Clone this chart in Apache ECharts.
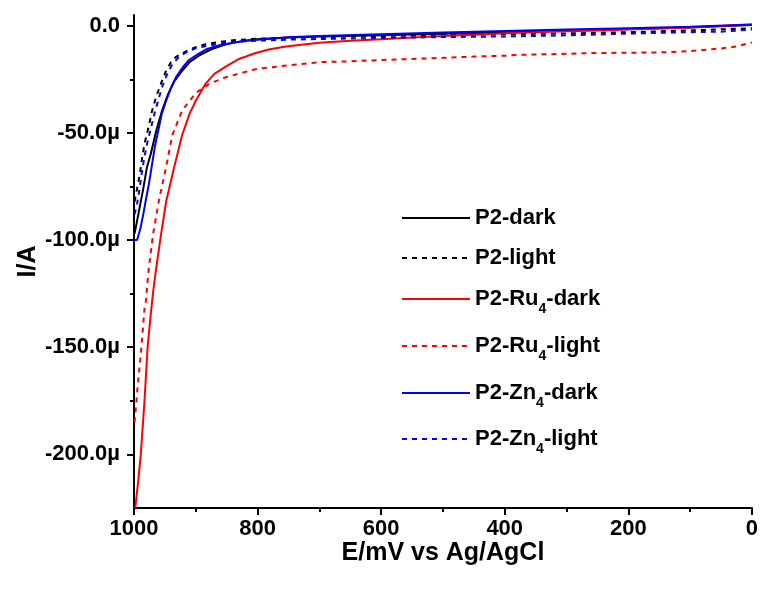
<!DOCTYPE html>
<html>
<head>
<meta charset="utf-8">
<script src="https://cdn.jsdelivr.net/npm/echarts@6/dist/echarts.min.js"></script>
<style>html,body{margin:0;padding:0;background:#fff}#c{width:761px;height:590px}</style>
</head>
<body>
<div id="c"></div>
<script>
// Potential E (mV vs Ag/AgCl), current I (µA)
var seriesNames = ['P2-dark', 'P2-light', 'P2-Ru4-dark', 'P2-Ru4-light', 'P2-Zn4-dark', 'P2-Zn4-light'];
var xTicks = [1000, 800, 600, 400, 200, 0];
var yTicks = [-200, -150, -100, -50, 0];
var yMinorTicks = [-175, -125, -75, -25];

var p2Dark = [[999,-97],[993,-88],[985,-76],[979,-66],[973,-60],[964,-49],[955,-40],[945,-32],[935,-26],[922,-21],[910,-17],[895,-14],[875,-11],[855,-9],[840,-8],[820,-7],[800,-6.3],[750,-5.5],[700,-5],[600,-4.5],[500,-3.8],[400,-3],[300,-2.2],[200,-1.5],[100,-0.8],[0,0.3]];
var p2Light = [[999,-82],[995,-76],[991,-70],[987,-62],[983,-55],[977,-48],[971,-40],[964,-33],[955,-26],[948,-21],[940,-17],[932,-14.5],[916,-12],[900,-10],[883,-8.5],[867,-7.8],[840,-6.8],[800,-6],[700,-5.3],[600,-4.8],[500,-4.4],[400,-4],[300,-3.6],[200,-3],[100,-2.2],[0,-1.2]];
var ru4Dark = [[998,-225],[993,-212],[989,-200],[983,-175],[978,-150],[973,-135],[969,-124],[964,-113],[956,-97],[948,-82],[935,-66],[922,-51],[910,-41],[900,-35],[884,-27],[870,-22.5],[851,-19],[830,-15.5],[803,-12.7],[780,-11],[754,-9.7],[700,-8],[650,-7],[600,-6.3],[550,-5.5],[500,-4.8],[450,-4.2],[400,-3.5],[350,-3],[300,-2.6],[250,-2.2],[200,-1.8],[150,-1.3],[100,-0.8],[50,-0.1],[0,0.6]];
var ru4Light = [[999,-185],[994,-168],[988,-150],[983,-132],[981,-129],[976,-113],[969,-97],[960,-82],[948,-66],[938,-51],[922,-39.5],[900,-31.4],[878,-27],[851,-24],[809,-20.7],[797,-20],[750,-18.5],[700,-17],[650,-16.6],[600,-16],[550,-15.5],[500,-15],[450,-14.4],[400,-14],[376,-13.6],[300,-13.1],[268,-12.8],[200,-12.6],[144,-12.4],[100,-11.8],[79,-11.3],[50,-10.6],[25,-9.7],[0,-7.8]];
var zn4Dark = [[1000,-100],[995,-100],[990,-95],[985,-88],[980,-80],[976,-74],[971,-65],[966,-56],[960,-48],[955,-41],[948,-35],[940,-29],[932,-24],[920,-19],[911,-16],[895,-13],[883,-11],[860,-9],[841,-8],[820,-7],[797,-6.4],[750,-5.4],[700,-4.8],[600,-4],[500,-3.2],[400,-2.5],[300,-1.8],[200,-1.2],[100,-0.5],[0,0.6]];
var zn4Light = [[999,-88],[995,-83],[991,-76],[987,-68],[983,-61],[978,-54],[972,-47],[966,-40],[960,-34],[955,-29],[947,-23],[938,-18],[927,-14.5],[916,-12.5],[900,-10.5],[883,-9.5],[860,-8.3],[840,-7.6],[800,-7],[750,-6.5],[700,-6.2],[600,-5.7],[500,-5.3],[400,-5],[300,-4.5],[214,-3.8],[100,-3],[52,-2.8],[0,-1.8]];

var seriesData = [p2Dark, p2Light, ru4Dark, ru4Light, zn4Dark, zn4Light];
var colors = ['#000000', '#000000', '#ff0000', '#ff0000', '#0000ff', '#0000ff'];
var dashed = [false, true, false, true, false, true];

// layout constants for the legend rows (vertical centres in px)
var legendCenters = [218, 258, 298, 345, 392, 438];

var FONT = 'Liberation Sans, Arial, sans-serif';

function hasSub(name) { return /(Ru|Zn)\d/.test(name); }
function legendLabel(name) {
  var m = name.match(/^(.*?(?:Ru|Zn))(\d)(-\w+)$/);
  if (m) return '{a|' + m[1] + '}{s|' + m[2] + '}{a|' + m[3] + '}';
  return '{a|' + name + '}';
}

var chart = echarts.init(document.getElementById('c'), null, {renderer: 'canvas'});
var series = seriesNames.map(function (n, i) {
  return {
    name: n,
    type: 'line',
    data: seriesData[i],
    symbol: 'none',
    showSymbol: false,
    smooth: false,
    animation: false,
    lineStyle: {color: colors[i], width: 2, type: dashed[i] ? [5, 5] : 'solid'},
    itemStyle: {color: colors[i]}
  };
});

var legends = seriesNames.map(function (n, i) {
  var half = hasSub(n) ? 10 : 11;
  return {
    data: [n],
    orient: 'vertical',
    left: 401,
    top: legendCenters[i] - half,
    padding: 0,
    itemWidth: 68,
    itemHeight: 10,
    selectedMode: false,
    formatter: legendLabel,
    itemStyle: {color: 'rgba(0,0,0,0)', borderColor: 'rgba(0,0,0,0)', borderWidth: 0, opacity: 0},
    textStyle: {
      rich: {
        a: {fontSize: 22, fontWeight: 'bold', fontFamily: FONT, color: '#000', lineHeight: 22},
        s: {fontSize: 14, fontWeight: 'bold', fontFamily: FONT, color: '#000', padding: [20, 0, 0, 0]}
      }
    }
  };
});

chart.setOption({
  animation: false,
  backgroundColor: '#ffffff',
  grid: {left: 134, right: 9, top: 15, bottom: 82},
  legend: legends,
  xAxis: {
    type: 'value',
    inverse: true,
    min: 0,
    max: 1000,
    interval: 200,
    name: 'E/mV vs Ag/AgCl',
    nameLocation: 'middle',
    nameGap: 33,
    nameMoveOverlap: false,
    nameTextStyle: {fontSize: 25, fontWeight: 'bold', fontFamily: FONT, color: '#000'},
    axisLine: {show: true, onZero: false, lineStyle: {color: '#000', width: 2}},
    axisTick: {show: true, inside: false, length: 7, lineStyle: {color: '#000', width: 2}},
    minorTick: {show: true, splitNumber: 2, length: 4, lineStyle: {color: '#000', width: 2}},
    axisLabel: {fontSize: 22, fontWeight: 'bold', fontFamily: FONT, color: '#000', margin: 10,
      formatter: function (v) { return String(v); }},
    splitLine: {show: false},
    minorSplitLine: {show: false}
  },
  yAxis: [{
    type: 'value',
    min: -225,
    max: 5,
    position: 'left',
    name: 'I/A',
    nameLocation: 'middle',
    nameGap: 93,
    nameMoveOverlap: false,
    nameRotate: 90,
    nameTextStyle: {fontSize: 25, fontWeight: 'bold', fontFamily: FONT, color: '#000'},
    axisLine: {show: true, onZero: false, lineStyle: {color: '#000', width: 2}},
    axisTick: {show: true, length: 7, customValues: yTicks, lineStyle: {color: '#000', width: 2}},
    axisLabel: {
      customValues: yTicks,
      fontSize: 22, fontWeight: 'bold', fontFamily: FONT, color: '#000', margin: 14,
      formatter: function (v) { return v === 0 ? '0.0' : v.toFixed(1) + 'µ'; }
    },
    splitLine: {show: false}
  }, {
    type: 'value',
    min: -225,
    max: 5,
    position: 'left',
    offset: 0,
    axisLine: {show: false, onZero: false},
    axisTick: {show: true, length: 4, customValues: yMinorTicks, lineStyle: {color: '#000', width: 2}},
    axisLabel: {show: false},
    splitLine: {show: false}
  }],
  series: series
});
</script>
</body>
</html>
